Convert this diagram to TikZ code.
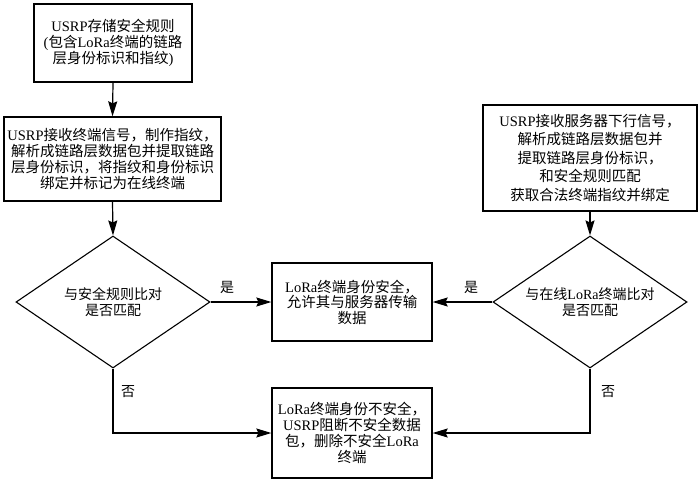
\documentclass[tikz,border=0pt]{standalone}
\usepackage{fontspec}
\setmainfont{Liberation Serif}
\newfontfamily\cjk{Noto Sans CJK SC}
\newcommand\zh[1]{{\cjk #1}}
\usetikzlibrary{shapes.geometric,arrows.meta}
\begin{document}
\begin{tikzpicture}[x=1pt,y=-1pt,
  every node/.style={font=\fontsize{14.5}{16}\selectfont},
  boxnode/.style={draw,line width=1.3pt,align=center,inner sep=0pt},
  dia/.style={draw,line width=1.1pt,shape=diamond,aspect=1.47,minimum width=194pt,minimum height=132pt,inner sep=0pt},
  diatext/.style={align=center,font=\fontsize{14}{15.5}\selectfont},
  lbl/.style={inner sep=0pt,font=\fontsize{14}{16}\selectfont},
  conn/.style={line width=1.2pt,-{Stealth[length=15pt,width=9pt,inset=2pt]}},
  plain/.style={line width=1.2pt}]
\useasboundingbox (0,0) rectangle (700,481);
\node[boxnode,minimum width=158pt,minimum height=78pt] (b1) at (113,43)
 {USRP\zh{存储安全规则}\\(\zh{包含}LoRa\zh{终端的链路}\\\zh{层身份标识和指纹})};
\node[boxnode,minimum width=217pt,minimum height=84pt] (b2) at (112.5,159)
 {USRP\zh{接收终端信号，制作指纹，}\\\zh{解析成链路层数据包并提取链路}\\\zh{层身份标识，将指纹和身份标识}\\\zh{绑定并标记为在线终端}};
\node[boxnode,minimum width=214pt,minimum height=106pt,font=\fontsize{14.5}{18.5}\selectfont] (b3) at (590,158)
 {USRP\zh{接收服务器下行信号，}\\\zh{解析成链路层数据包并}\\\zh{提取链路层身份标识，}\\\zh{和安全规则匹配}\\\zh{获取合法终端指纹并绑定}};
\node[dia] (d1) at (113,302) {};
\node[diatext] (d1t) at (d1.center) {\zh{与安全规则比对}\\\zh{是否匹配}};
\node[dia] (d2) at (590,302) {};
\node[diatext] (d2t) at (d2.center) {\zh{与在线}LoRa\zh{终端比对}\\\zh{是否匹配}};
\node[boxnode,minimum width=160pt,minimum height=78pt,font=\fontsize{14.5}{15.5}\selectfont] (ok) at (352,302)
 {LoRa\zh{终端身份安全，}\\\zh{允许其与服务器传输}\\\zh{数据}};
\node[boxnode,minimum width=160pt,minimum height=90pt,font=\fontsize{14.5}{16}\selectfont] (bad) at (352,433)
 {LoRa\zh{终端身份不安全，}\\USRP\zh{阻断不安全数据}\\\zh{包，删除不安全}LoRa\\\zh{终端}};
\draw[conn] (b1.south) -- (b2.north);
\draw[conn] (b2.south) -- (d1.north);
\draw[conn] (b3.south) -- (d2.north);
\draw[conn] (d1.east) -- (ok.west);
\draw[conn] (d2.west) -- (ok.east);
\draw[conn] (d1.south) |- (bad.west);
\draw[conn] (d2.south) |- (bad.east);
\node[lbl] (y1) at (227,287) {\zh{是}};
\node[lbl] (y2) at (471,287) {\zh{是}};
\node[lbl] (n1) at (128,392) {\zh{否}};
\node[lbl] (n2) at (608,392) {\zh{否}};
\end{tikzpicture}
\end{document}
